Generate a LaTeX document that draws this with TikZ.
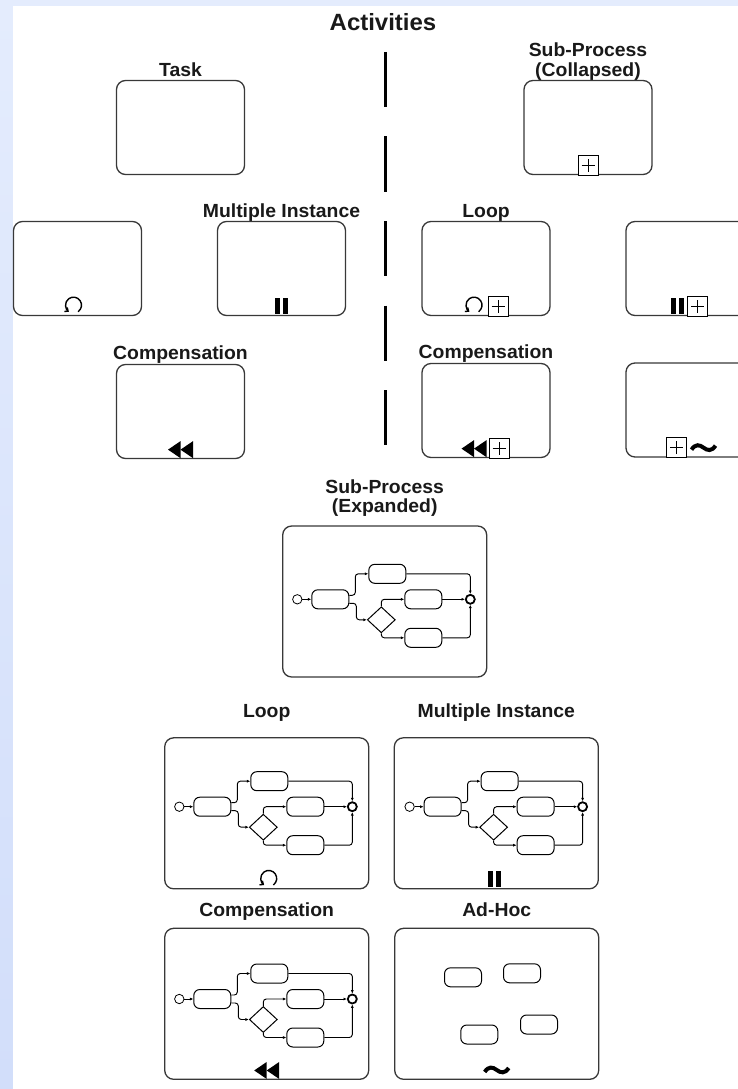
\documentclass[tikz,border=0pt]{standalone}
\usepackage{fontspec}
\setmainfont{Liberation Sans}[FakeStretch=1.02]
\usetikzlibrary{arrows.meta,positioning,shapes.geometric}
\definecolor{bgtop}{HTML}{E4ECFD}
\definecolor{bgbot}{HTML}{D2DEFA}
\definecolor{frame}{HTML}{383838}
\tikzset{
  actbox/.style={draw=frame, line width=1.3pt, rounded corners=9pt, fill=white,
                 minimum width=128pt, minimum height=94pt, inner sep=0pt},
  bigbox/.style={actbox, minimum width=204pt, minimum height=151pt},
  lbl/.style={font=\fontsize{19}{22}\selectfont\bfseries, text=black!90, inner sep=0pt},
  ttl/.style={lbl, font=\fontsize{23.5}{27}\selectfont\bfseries},
  sepline/.style={line width=3pt, dash pattern=on 55pt off 29.5pt},
  itask/.style={draw, line width=1pt, rounded corners=6pt, minimum width=37pt,
                minimum height=19pt, inner sep=0pt},
  gw/.style={diamond, draw, line width=1pt, minimum width=28pt, minimum height=26pt, inner sep=0pt},
  startev/.style={circle, draw, line width=0.8pt, minimum size=9.4pt, inner sep=0pt},
  endev/.style={circle, draw, line width=1.8pt, minimum size=9pt, inner sep=0pt},
  seq/.style={line width=0.95pt, rounded corners=3pt, -{Latex[length=3.4pt,width=3pt]}},
  % markers, drawn upwards from the bottom middle
  plusmark/.pic={
    \draw[line width=0.9pt, fill=white] (-10,0) rectangle (10,-20);
    \draw[line width=0.8pt] (-6.5,-10) -- (6.5,-10) (0,-3.5) -- (0,-16.5);
  },
  loopmark/.pic={
    \draw[line width=1.4pt, -{Straight Barb[length=2.8pt,width=5pt]}]
      (0,-11) ++(55:8) arc[start angle=55, end angle=-235, radius=8];
  },
  mimark/.pic={
    \fill (-6.3,-2) rectangle (-1.6,-18);
    \fill (1.6,-2) rectangle (6.3,-18);
  },
  compmark/.pic={
    \fill (-12.5,-9.5) -- (0,-18) -- (0,-1) -- cycle;
    \fill (0,-9.5) -- (12.5,-18) -- (12.5,-1) -- cycle;
  },
  adhocmark/.pic={
    \draw[line width=4pt] (-12,-8) .. controls (-8,-14) and (-4,-13) .. (0,-10)
      .. controls (4,-7) and (8,-6) .. (12,-12);
  },
  % small process inside the expanded sub-processes
  flow/.pic={
    \node[startev] (-s) at (0,0) {};
    \node[itask] (-t1) at (33,0) {};
    \node[itask] (-t2) at (90,-25.5) {};
    \node[gw] (-g) at (84,20.5) {};
    \node[itask] (-t3) at (126,0) {};
    \node[itask] (-t4) at (126,38.5) {};
    \node[endev] (-e) at (173,0) {};
    \draw[seq] (-s) -- (-t1);
    \draw[seq] ([yshift=4pt]-t1.east) -- ++(6,0) |- (-t2);
    \draw[seq] ([yshift=-4pt]-t1.east) -- ++(7,0) |- (-g);
    \draw[seq] (-g.north) |- (-t3);
    \draw[seq] (-g.south) |- (-t4);
    \draw[seq] (-t3) -- (-e);
    \draw[seq] (-t2) -| (-e);
    \draw[seq] (-t4) -| (-e);
  },
}

\begin{document}
\begin{tikzpicture}[x=1pt, y=-1pt]

% page and background
\path[clip] (0,0) rectangle (738,1089);
\fill[top color=bgtop, bottom color=bgbot] (0,0) rectangle (738,1089);
\fill[white] (13,6) rectangle (738,1089);

\node[ttl, anchor=base] (title) at (383,30.5) {Activities};

% separator
\coordinate (septop) at (385,52);
\coordinate (sepbot) at (385,446);
\draw[sepline] (septop) -- (sepbot);

% tasks (left) and collapsed sub-processes (right)
\node[actbox] (task) at (180.5,127.5) {};
\node[actbox] (subc) at (588,127.5) {};
\node[actbox] (looptask) at (77.5,268.5) {};
\node[actbox] (mitask) at (281.5,268.5) {};
\node[actbox] (loopsub) at (486,268.5) {};
\node[actbox] (misub) at (690,268.5) {};
\node[actbox] (comptask) at (180.5,411.5) {};
\node[actbox] (compsub) at (486,410.5) {};
\node[actbox] (adhocsub) at (690,410) {};

\node[lbl, above=3.5pt of task, anchor=base] (tasklbl) {Task};
\node[lbl, above=3.5pt of subc, anchor=base] (subclbl) {(Collapsed)};
\node[lbl, above=20pt of subclbl.base, anchor=base] (subctop) {Sub-Process};
\node[lbl, above=3.5pt of mitask, anchor=base] (milbl) {Multiple Instance};
\node[lbl, above=3.5pt of loopsub, anchor=base] (looplbl) {Loop};
\node[lbl, above=4pt of comptask, anchor=base] (complbl) {Compensation};
\node[lbl, above=4pt of compsub, anchor=base] (compsublbl) {Compensation};

\pic at (subc.south) {plusmark};
\pic at ([xshift=-4pt]looptask.south) {loopmark};
\pic at (mitask.south) {mimark};
\pic at ([xshift=-12pt]loopsub.south) {loopmark};
\pic at ([xshift=12pt]loopsub.south) {plusmark};
\pic at ([xshift=-12.5pt]misub.south) {mimark};
\pic at ([xshift=7.5pt]misub.south) {plusmark};
\pic at (comptask.south) {compmark};
\pic at ([xshift=-12pt]compsub.south) {compmark};
\pic at ([xshift=13pt]compsub.south) {plusmark};
\pic at ([xshift=-13.5pt]adhocsub.south) {plusmark};
\pic at ([xshift=13.5pt]adhocsub.south) {adhocmark};

% expanded sub-processes
\node[bigbox] (exp) at (384.7,601.5) {};
\node[bigbox] (loopexp) at (266.7,813.3) {};
\node[bigbox] (miexp) at (496.3,813.3) {};
\node[bigbox] (compexp) at (266.7,1003.8) {};
\node[bigbox] (adhocexp) at (496.7,1003.8) {};

\node[lbl, above=13pt of exp, anchor=base] (explbl) {(Expanded)};
\node[lbl, above=19pt of explbl.base, anchor=base] (exptop) {Sub-Process};
\node[lbl, above=19.5pt of loopexp, anchor=base] (loopexplbl) {Loop};
\node[lbl, above=19.5pt of miexp, anchor=base] (miexplbl) {Multiple Instance};
\node[lbl, above=11pt of compexp, anchor=base] (compexplbl) {Compensation};
\node[lbl, above=11pt of adhocexp, anchor=base] (adhoclbl) {Ad-Hoc};

\pic (fe) at (297.3,599.3) {flow};
\pic (fl) at (179.3,806.7) {flow};
\pic (fm) at (409.6,806.7) {flow};
\pic (fc) at (179.3,999) {flow};

\node[itask] (ah1) at (463,977.3) {};
\node[itask] (ah2) at (522,973.3) {};
\node[itask] (ah3) at (479.3,1034.5) {};
\node[itask] (ah4) at (539,1024.5) {};

\pic at ([xshift=2pt]loopexp.south) {loopmark};
\pic at ([xshift=-2pt]miexp.south) {mimark};
\pic at (compexp.south) {compmark};
\pic at (adhocexp.south) {adhocmark};

\end{tikzpicture}
\end{document}
